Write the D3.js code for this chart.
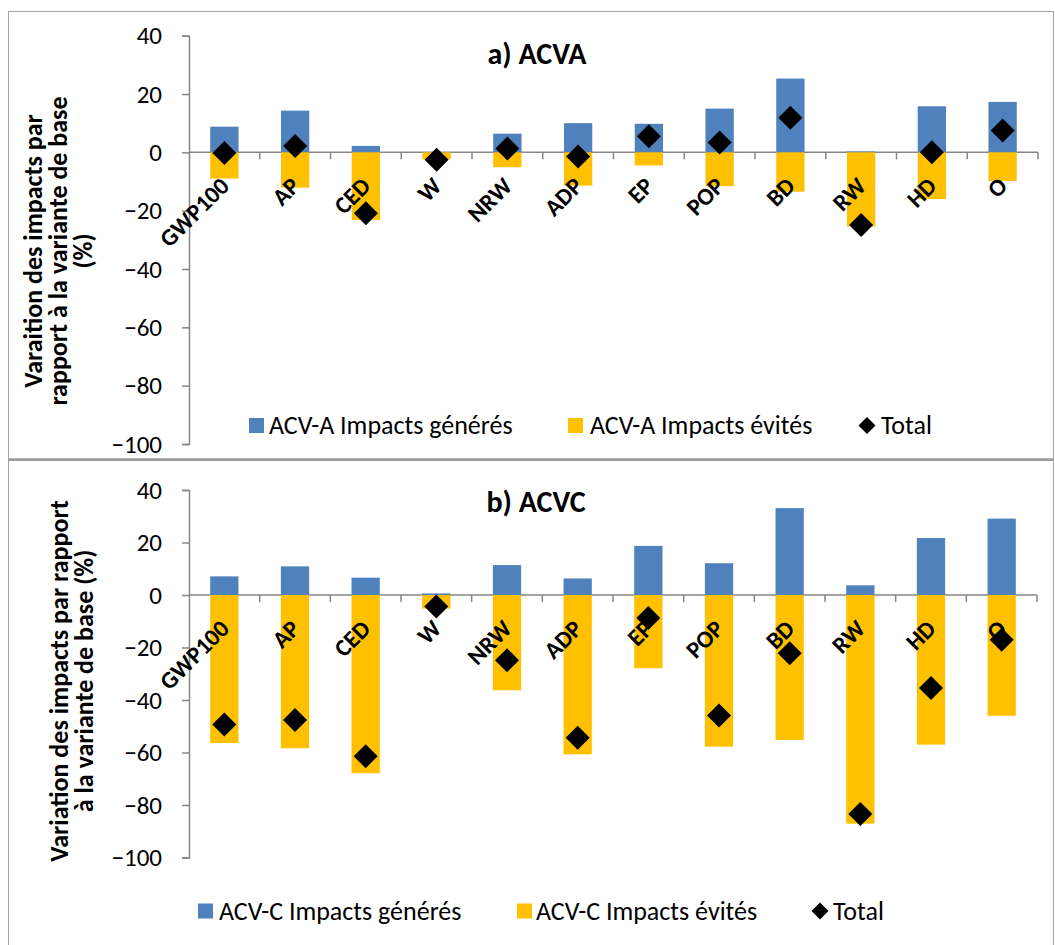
<!DOCTYPE html>
<html>
<head>
<meta charset="utf-8">
<script src="https://cdn.jsdelivr.net/npm/d3@7"></script>
<style>
  html, body { margin: 0; padding: 0; background: #fff; }
  svg { display: block; }
  text { font-family: Carlito, Lato, "Liberation Sans", sans-serif; fill: #000; }
</style>
</head>
<body>
<svg id="chart" width="1055" height="945"></svg>
<script>
// ---- Data ----
const categories = ["GWP100", "AP", "CED", "W", "NRW", "ADP", "EP", "POP", "BD", "RW", "HD", "O"];
const yTicks = [-100, -80, -60, -40, -20, 0, 20, 40];

const acvaGeneres = [8.8, 14.3, 2.2, 0.0, 6.4, 10.0, 9.8, 15.0, 25.3, 0.3, 15.8, 17.3];
const acvaEvites  = [-9.0, -12.1, -23.2, -2.4, -5.1, -11.4, -4.5, -11.6, -13.5, -25.4, -16.0, -9.8];
const acvaTotal   = [-0.2, 2.2, -20.9, -2.5, 1.3, -1.4, 5.5, 3.4, 11.9, -24.9, 0.0, 7.5];

const acvcGeneres = [7.1, 10.9, 6.6, 0.6, 11.4, 6.3, 18.7, 12.1, 33.1, 3.7, 21.7, 29.1];
const acvcEvites  = [-56.4, -58.4, -67.9, -5.2, -36.3, -60.7, -27.9, -57.8, -55.2, -87.1, -57.0, -46.0];
const acvcTotal   = [-49.3, -47.6, -61.4, -4.4, -24.9, -54.4, -8.8, -45.9, -22.2, -83.4, -35.4, -17.0];

const panelA = {
  title: "a) ACVA",
  yTitle: ["Varaition des impacts par", "rapport à la variante de base", "(%)"],
  legend: ["ACV-A Impacts générés", "ACV-A Impacts évités", "Total"],
  gen: acvaGeneres, evit: acvaEvites, total: acvaTotal
};
const panelC = {
  title: "b) ACVC",
  yTitle: ["Variation des impacts par rapport", "à la variante de base (%)"],
  legend: ["ACV-C Impacts générés", "ACV-C Impacts évités", "Total"],
  gen: acvcGeneres, evit: acvcEvites, total: acvcTotal
};

const BLUE = "#4F81BD", ORANGE = "#FFC000", AXIS = "#868686";
const svg = d3.select("#chart");

// panel frames
svg.append("rect").attr("x", 8.5).attr("y", 11.5).attr("width", 1045).attr("height", 448)
  .attr("fill", "none").attr("stroke", "#a6a6a6").attr("stroke-width", 1);
svg.append("rect").attr("x", 8.5).attr("y", 460.5).attr("width", 1045).attr("height", 490)
  .attr("fill", "none").attr("stroke", "#a6a6a6").attr("stroke-width", 1);
svg.append("line").attr("x1", 8).attr("x2", 1054).attr("y1", 459.5).attr("y2", 459.5)
  .attr("stroke", "#9a9a9a").attr("stroke-width", 2.5);

function diamondPath(r) {
  return `M0,${-r}L${r},0L0,${r}L${-r},0Z`;
}

function drawPanel(p, geo) {
  const g = svg.append("g");
  const x = d3.scaleBand().domain(categories).range([geo.x0, geo.x1]).paddingInner(0.6).paddingOuter(0.3);
  const xb = d3.scaleBand().domain(categories).range([geo.x0, geo.x1]);
  const y = d3.scaleLinear().domain([-100, 40]).range([geo.yBottom, geo.yTop]);

  // Y axis
  const yAxis = g.append("g").attr("transform", `translate(${geo.x0},0)`)
    .call(d3.axisLeft(y).tickValues(yTicks).tickSize(7).tickPadding(20).tickFormat(d3.format("d")));
  yAxis.select(".domain").attr("stroke", AXIS).attr("stroke-width", 1.5);
  yAxis.selectAll(".tick line").attr("stroke", AXIS).attr("stroke-width", 1.5);
  yAxis.selectAll(".tick text").attr("font-size", 25).attr("fill", "#000")
    .style("font-family", "Carlito, Lato, sans-serif");

  // zero axis line with ticks between categories
  const y0 = y(0);
  g.append("line").attr("x1", geo.x0).attr("x2", geo.x1).attr("y1", y0).attr("y2", y0)
    .attr("stroke", AXIS).attr("stroke-width", 1.5);
  const bounds = categories.map(c => xb(c) + xb.bandwidth());
  g.selectAll(".xtick").data(bounds).join("line")
    .attr("x1", d => d).attr("x2", d => d).attr("y1", y0).attr("y2", y0 + 7)
    .attr("stroke", AXIS).attr("stroke-width", 1.5);

  // bars
  g.selectAll(".gen").data(categories).join("rect")
    .attr("x", (c) => x(c)).attr("width", x.bandwidth())
    .attr("y", (c, i) => y(Math.max(0, p.gen[i])))
    .attr("height", (c, i) => Math.abs(y(p.gen[i]) - y(0)))
    .attr("fill", BLUE);
  g.selectAll(".evit").data(categories).join("rect")
    .attr("x", (c) => x(c)).attr("width", x.bandwidth())
    .attr("y", y(0))
    .attr("height", (c, i) => Math.abs(y(p.evit[i]) - y(0)))
    .attr("fill", ORANGE);

  // category labels
  g.selectAll(".cat").data(categories).join("text")
    .attr("transform", c => `translate(${xb(c) + xb.bandwidth() / 2 - 5},${y0 + 24}) rotate(-45)`)
    .attr("text-anchor", "end").attr("dy", "0.66em")
    .attr("font-size", 24).attr("font-weight", "bold")
    .text(c => c);

  // totals
  g.selectAll(".tot").data(categories).join("path")
    .attr("d", diamondPath(12))
    .attr("transform", (c, i) => `translate(${xb(c) + xb.bandwidth() / 2},${y(p.total[i])})`)
    .attr("fill", "#000");

  // title
  g.append("text").attr("x", geo.titleX).attr("y", geo.titleY).attr("text-anchor", "middle")
    .attr("font-size", 30).attr("font-weight", "bold").text(p.title);

  // y title
  const yt = g.append("text").attr("transform", `translate(${geo.yTitleX},${geo.yTitleY}) rotate(-90)`)
    .attr("text-anchor", "middle").attr("font-size", 26).attr("font-weight", "bold");
  p.yTitle.forEach((line, i) => {
    yt.append("tspan").attr("x", 0).attr("y", i * geo.yTitleGap).text(line);
  });

  // legend
  const L = geo.legend;
  const lg = g.append("g");
  lg.append("rect").attr("x", L.sq1).attr("y", L.cy - 7.5).attr("width", 15).attr("height", 15).attr("fill", BLUE);
  lg.append("text").attr("x", L.t1).attr("y", L.cy).attr("dy", "0.34em").attr("font-size", 26).text(p.legend[0]);
  lg.append("rect").attr("x", L.sq2).attr("y", L.cy - 7.5).attr("width", 15).attr("height", 15).attr("fill", ORANGE);
  lg.append("text").attr("x", L.t2).attr("y", L.cy).attr("dy", "0.34em").attr("font-size", 26).text(p.legend[1]);
  lg.append("path").attr("d", diamondPath(8.5)).attr("transform", `translate(${L.dm},${L.cy})`).attr("fill", "#000");
  lg.append("text").attr("x", L.t3).attr("y", L.cy).attr("dy", "0.34em").attr("font-size", 26).text(p.legend[2]);
}

drawPanel(panelA, {
  x0: 189, x1: 1038, yTop: 35.7, yBottom: 444,
  titleX: 537, titleY: 64,
  yTitleX: 42, yTitleY: 251, yTitleGap: 25,
  legend: { cy: 425.5, sq1: 249, t1: 269, sq2: 568, t2: 590, dm: 867, t3: 881 }
});
drawPanel(panelC, {
  x0: 189, x1: 1037, yTop: 490, yBottom: 857.5,
  titleX: 536, titleY: 512,
  yTitleX: 68, yTitleY: 681, yTitleGap: 25,
  legend: { cy: 911, sq1: 198, t1: 219, sq2: 517, t2: 536, dm: 820, t3: 833 }
});
</script>
</body>
</html>
